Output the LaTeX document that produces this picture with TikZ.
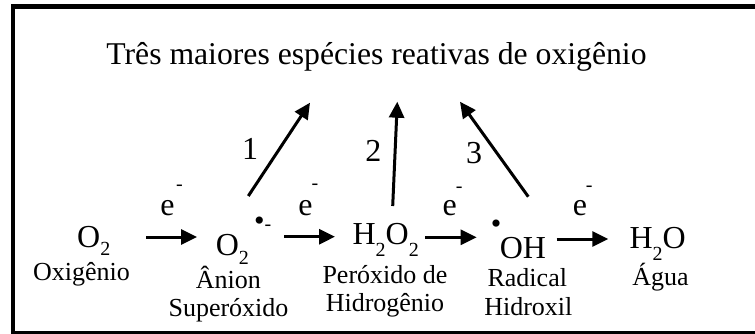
\documentclass[tikz,border=0pt]{standalone}
\usepackage{fontspec}
\setmainfont{Liberation Serif}
\usetikzlibrary{arrows.meta}
\newcommand\chsub[2][10pt]{\raisebox{-#1}{\fontsize{20}{20}\selectfont #2}}
\begin{document}
\begin{tikzpicture}[x=1pt,y=-1pt,
  titletext/.style={font=\fontsize{31.7}{34}\selectfont,anchor=base,inner sep=0},
  lbl/.style={font=\fontsize{26}{28}\selectfont,anchor=base,inner sep=0},
  chem/.style={font=\fontsize{32}{34}\selectfont,anchor=base west,inner sep=0},
  elec/.style={font=\fontsize{32}{34}\selectfont,anchor=base,inner sep=0},
  minussign/.style={font=\fontsize{20}{20}\selectfont,anchor=base,inner sep=0},
  num/.style={font=\fontsize{32}{34}\selectfont,anchor=base,inner sep=0},
  rdot/.style={font=\fontsize{30}{30}\selectfont,anchor=center,inner sep=0},
  arr/.style={line width=3pt,-{Triangle[length=16pt,width=15pt]}},
]
\useasboundingbox (0,0) rectangle (755,333);
\draw[line width=4.5pt] (13,6.5) rectangle (765,333.5);

% title
\node[titletext] (title) at (376.5,64) {Três maiores espécies reativas de oxigênio};

% species
\node[chem] (o2) at (77,247) {O\chsub[8.5pt]{2}};
\node[chem] (sup) at (215.6,255.7) {O\chsub[9pt]{2}};
\node[rdot] (supdot) at (259.3,224) {•};
\node[minussign] (supminus) at (267.9,230.2) {-};
\node[chem] (h2o2) at (352.4,244.3) {H\chsub[12pt]{2}O\chsub[12pt]{2}};
\node[rdot] (ohdot) at (496,226.7) {•};
\node[chem] (oh) at (499.6,258.3) {OH};
\node[chem] (h2o) at (629.4,248.3) {H\chsub[11.7pt]{2}O};

% names
\node[lbl] (n1) at (81.5,280) {Oxigênio};
\node[lbl] (n2a) at (228.3,288.5) {Ânion};
\node[lbl] (n2b) at (228.5,316) {Superóxido};
\node[lbl] (n3a) at (385,283.3) {Peróxido de};
\node[lbl] (n3b) at (385,311.7) {Hidrogênio};
\node[lbl] (n4a) at (527.3,286.5) {Radical};
\node[lbl] (n4b) at (528.3,315) {Hidroxil};
\node[lbl] (n5) at (660.5,285) {Água};

% electrons
\node[elec] (e1) at (167.5,215) {e};
\node[minussign] (m1) at (179.5,190.5) {-};
\node[elec] (e2) at (305.5,215) {e};
\node[minussign] (m2) at (315,189.5) {-};
\node[elec] (e3) at (449.7,215) {e};
\node[minussign] (m3) at (459.3,192.5) {-};
\node[elec] (e4) at (580,215) {e};
\node[minussign] (m4) at (589.3,191.2) {-};

% numbers
\node[num] (k1) at (250,159) {1};
\node[num] (k2) at (373.3,161.7) {2};
\node[num] (k3) at (474.2,163.3) {3};

% arrow end points
\coordinate (h1s) at (146,237);   \coordinate (h1e) at (197,237);
\coordinate (h2s) at (284,236.7); \coordinate (h2e) at (335,236.7);
\coordinate (h3s) at (425,237.3); \coordinate (h3e) at (476.7,237.3);
\coordinate (h4s) at (556.7,239); \coordinate (h4e) at (608.3,239);
\coordinate (d1s) at (248.3,196); \coordinate (d1e) at (310,102.7);
\coordinate (d2s) at (392.7,206); \coordinate (d2e) at (397.3,101.7);
\coordinate (d3s) at (528.3,196.7); \coordinate (d3e) at (460,101.7);

\draw[arr] (h1s) -- (h1e);
\draw[arr] (h2s) -- (h2e);
\draw[arr] (h3s) -- (h3e);
\draw[arr] (h4s) -- (h4e);
\draw[arr] (d1s) -- (d1e);
\draw[arr] (d2s) -- (d2e);
\draw[arr] (d3s) -- (d3e);
\end{tikzpicture}
\end{document}
